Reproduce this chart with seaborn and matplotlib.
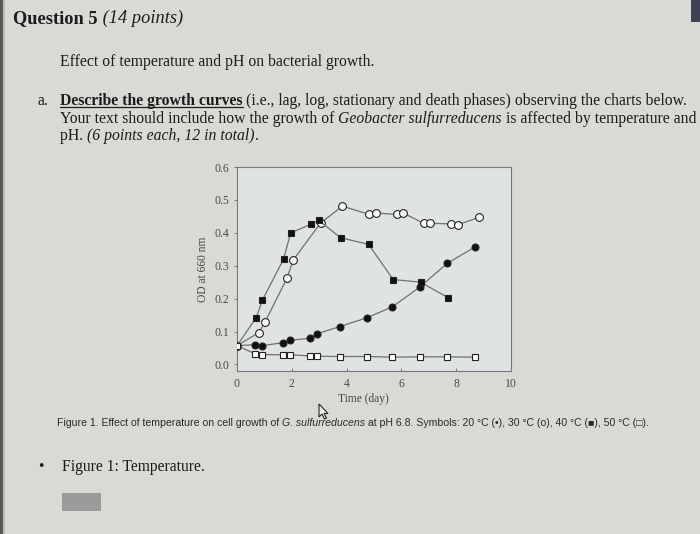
import matplotlib
matplotlib.use("Agg")
import matplotlib.pyplot as plt
import seaborn as sns
import pandas as pd
from matplotlib import font_manager
from matplotlib.font_manager import FontProperties
from matplotlib.patches import Rectangle, Polygon
from matplotlib.lines import Line2D

# ---------------- data ----------------
t20 = [0, 0.67, 0.92, 1.67, 1.92, 2.67, 2.92, 3.75, 4.75, 5.67, 6.67, 7.67, 8.67]
od20 = [0.057, 0.060, 0.057, 0.066, 0.073, 0.080, 0.093, 0.115, 0.142, 0.175, 0.235, 0.307, 0.356]

t30 = [0, 0.8, 1.03, 1.83, 2.05, 3.05, 3.85, 4.82, 5.07, 5.83, 6.07, 6.81, 7.06, 7.81, 8.06, 8.85]
od30 = [0.057, 0.097, 0.130, 0.263, 0.317, 0.430, 0.481, 0.456, 0.460, 0.456, 0.460, 0.429, 0.429, 0.427, 0.425, 0.447]

t40 = [0, 0.7, 0.93, 1.7, 1.96, 2.7, 2.98, 3.78, 4.8, 5.7, 6.7, 7.7]
od40 = [0.057, 0.142, 0.196, 0.320, 0.400, 0.426, 0.438, 0.385, 0.365, 0.258, 0.250, 0.203]

t50 = [0, 0.67, 0.92, 1.67, 1.92, 2.67, 2.92, 3.75, 4.75, 5.67, 6.67, 7.67, 8.67]
od50 = [0.057, 0.032, 0.030, 0.029, 0.029, 0.026, 0.025, 0.024, 0.024, 0.022, 0.023, 0.023, 0.022]

xticks = [0, 2, 4, 6, 8, 10]
yticks = [0.0, 0.1, 0.2, 0.3, 0.4, 0.5, 0.6]
ytick_labels = ["0.0", "0.1", "0.2", "0.3", "0.4", "0.5", "0.6"]

# ---------------- figure ----------------
sns.set_style("ticks")
W, H = 700, 534
SERIF = ["Liberation Serif", "DejaVu Serif"]
names = {f.name for f in font_manager.fontManager.ttflist}
CAPF = "Liberation Sans Narrow" if "Liberation Sans Narrow" in names else "Liberation Sans"
plt.rcParams["font.family"] = SERIF

BG = "#d9dad5"
fig = plt.figure(figsize=(W / 100, H / 100), dpi=100, facecolor=BG)
R = fig.canvas.get_renderer()


def fx(px):
    return px / W


def fy(py):
    return 1 - py / H


# left border and top-right dark corner
fig.patches.append(Rectangle((0, 0), fx(3), 1, transform=fig.transFigure,
                             facecolor="#5a5a58", edgecolor="none"))
fig.patches.append(Rectangle((fx(3), 0), fx(2), 1, transform=fig.transFigure,
                             facecolor="#bdbdb8", edgecolor="none"))
fig.patches.append(Rectangle((fx(691), fy(22)), fx(9), 22 / H, transform=fig.transFigure,
                             facecolor="#3d4352", edgecolor="none"))


def adv(s, fp):
    w1, _, _ = R.get_text_width_height_descent(s + "|", fp, ismath=False)
    w2, _, _ = R.get_text_width_height_descent("|", fp, ismath=False)
    return w1 - w2


def fp_of(kw, size, family):
    return FontProperties(family=family, size=size,
                          weight=kw.get("weight", "normal"),
                          style=kw.get("style", "normal"))


def total_width(parts, size, family):
    return sum(adv(t, fp_of(kw, size, family)) for t, kw in parts)


def fit_size(parts, target, family, size=10.0):
    w = total_width(parts, size, family)
    return size * target / w


def draw_runs(x0, y, parts, size, family, color="#1c1c1c"):
    x = x0
    for t, kw in parts:
        fp = fp_of(kw, size, family)
        fig.text(fx(x), fy(y), t, fontproperties=fp, color=color,
                 ha="left", va="baseline")
        a = adv(t, fp)
        if kw.get("underline"):
            fig.add_artist(Line2D([fx(x), fx(x + a)], [fy(y + 2), fy(y + 2)],
                                  transform=fig.transFigure, color=color, lw=0.9))
        x += a
    return x


B = {"weight": "bold"}
I = {"style": "italic"}
N = {}

# heading
q_parts = [("Question 5", B), (" (14 points)", I)]
draw_runs(13, 23, q_parts, fit_size(q_parts, 169, SERIF), SERIF)

e_parts = [("Effect of temperature and pH on bacterial growth.", N)]
draw_runs(60, 66, e_parts, fit_size(e_parts, 314, SERIF), SERIF)

l2 = [("Your text should include how the growth of ", N), ("Geobacter sulfurreducens", I),
      (" is affected by temperature and", N)]
s_body = fit_size(l2, 637, SERIF)
l1 = [("Describe the growth curves", {"weight": "bold", "underline": True}),
      (" (i.e., lag, log, stationary and death phases) observing the charts below.", N)]
l3 = [("pH. ", N), ("(6 points each, 12 in total)", I), (".", N)]
draw_runs(38, 105, [("a.", N)], s_body, SERIF)
draw_runs(60, 105, l1, s_body, SERIF)
draw_runs(60, 123, l2, s_body, SERIF)
draw_runs(60, 140, l3, s_body, SERIF)

# caption
CAPFAM = [CAPF, "DejaVu Sans"]
cap = [("Figure 1. Effect of temperature on cell growth of ", N), ("G. sulfurreducens", I),
       (" at pH 6.8. Symbols: 20 \u00b0C (\u2022), 30 \u00b0C (o), 40 \u00b0C (\u25a0), 50 \u00b0C (\u25a1).", N)]
draw_runs(57, 426, cap, fit_size(cap, 591, CAPFAM), CAPFAM, color="#2a2a2a")

# bullet line
f_parts = [("Figure 1: Temperature.", N)]
s_f = fit_size(f_parts, 143, SERIF)
draw_runs(38, 471, [("\u2022", N)], s_f, SERIF)
draw_runs(62, 471, f_parts, s_f, SERIF)

# grey box
fig.patches.append(Rectangle((fx(62), fy(511)), fx(39), 18 / H, transform=fig.transFigure,
                             facecolor="#9b9b9a", edgecolor="none"))

# ---------------- chart ----------------
ax = fig.add_axes([fx(237), fy(371), fx(511) - fx(237), (371 - 167) / H])
ax.set_facecolor("#e0e3e4")

LC = "#707070"
series = [
    (t20, od20, "o", "#111111", 5.0),
    (t30, od30, "o", "white", 5.6),
    (t40, od40, "s", "#111111", 4.8),
    (t50, od50, "s", "white", 4.9),
]
for i, (t, od, mk, fc, ms) in enumerate(series):
    df = pd.DataFrame({"Time": t, "OD": od})
    sns.lineplot(data=df, x="Time", y="OD", ax=ax, sort=False, color=LC, lw=0.9,
                 marker=mk, markersize=ms, markerfacecolor=fc,
                 markeredgecolor="#222222", markeredgewidth=0.8, zorder=3 + i)

ax.set_xlim(0, 10)
ax.set_ylim(-0.02, 0.6)
ax.set_xticks(xticks)
ax.set_yticks(yticks)
ax.set_yticklabels(ytick_labels)
for s in ax.spines.values():
    s.set_visible(True)
    s.set_color("#777777")
    s.set_linewidth(0.8)
ax.tick_params(axis="x", direction="in", length=2.5, width=0.7, colors="#777777",
               labelcolor="#4a4a4a", labelsize=8.5, pad=5)
ax.tick_params(axis="y", direction="out", length=2.5, width=0.7, colors="#777777",
               labelcolor="#4a4a4a", labelsize=8.5, pad=3)
for lab in ax.get_xticklabels() + ax.get_yticklabels():
    lab.set_family(SERIF)
ax.set_xlabel("")
ax.set_ylabel("OD at 660 nm", fontsize=8.3, color="#444444", family=SERIF, labelpad=4)
fig.text(fx(363), fy(399), "Time (day)", fontsize=8.3, color="#444444", family=SERIF,
         ha="center", va="center")

# mouse pointer
tip = (319, 404)
pts = [(0, 0), (0, 13), (3, 10), (5.5, 15), (7.5, 14), (5, 9.5), (9, 9.5)]
fig.patches.append(Polygon([(fx(tip[0] + a), fy(tip[1] + b)) for a, b in pts], closed=True,
                           transform=fig.transFigure, facecolor="#f2f2f2",
                           edgecolor="#222222", lw=0.8, zorder=10))

fig.savefig("out.png", dpi=100, facecolor=BG)
